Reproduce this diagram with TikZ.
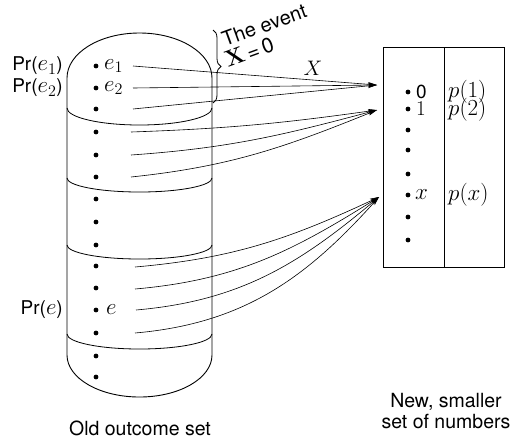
\RequirePackage{fix-cm}
\documentclass[tikz,border=0pt]{standalone}
\usepackage[no-math]{fontspec}
\setmainfont{TeX Gyre Heros}
\usetikzlibrary{arrows.meta,decorations.pathreplacing}

\begin{document}
\begin{tikzpicture}[x=1pt,y=1pt,
  pt/.style={circle,fill,inner sep=0pt,minimum size=4.8pt},
  rim/.style={line width=0.9pt},
  band/.style={line width=0.8pt},
  map/.style={line width=0.6pt,-{Stealth[length=9pt,width=4.5pt,inset=2.5pt]}},
  txt/.style={inner sep=0pt,font=\fontsize{19}{21}\selectfont},
  big/.style={inner sep=0pt,font=\fontsize{19.5}{22}\selectfont},
  mth/.style={inner sep=0pt,font=\fontsize{23}{26}\selectfont},
  num/.style={inner sep=0pt,font=\fontsize{21}{24}\selectfont},
  tilt/.style={inner sep=0pt,font=\fontsize{20}{22}\selectfont,rotate=20,anchor=base west}]
\useasboundingbox (0,0) rectangle (510,-445);

% --- the old outcome set: a capsule cut into bands ---
\draw[rim] (67,-78) arc[start angle=180,end angle=0,x radius=72.5,y radius=45]
  -- (212,-355) arc[start angle=0,end angle=-180,x radius=72.5,y radius=42] -- cycle;
\draw[band] (67,-108) arc[start angle=180,end angle=360,x radius=72.5,y radius=17];
\draw[band] (67,-178) arc[start angle=180,end angle=360,x radius=72.5,y radius=14];
\draw[band] (67,-245) arc[start angle=180,end angle=360,x radius=72.5,y radius=14];
\draw[band] (67,-334) arc[start angle=180,end angle=360,x radius=72.5,y radius=15];

% outcomes
\foreach \i/\y in {1/66,2/88,3/109,4/132,5/155,6/177,7/199,8/222,9/245,10/266,11/288,12/310,13/333,14/356,15/377}
  \node[pt] (d\i) at (96,-\y) {};

\node[mth,anchor=west] (le1) at (104,-66) {$e_1$};
\node[mth,anchor=west] (le2) at (104,-88) {$e_2$};
\node[mth,anchor=west] (le) at (106,-310) {$e$};

\newcommand\prlabel[1]{Pr({\fontsize{23}{26}\selectfont$#1$})}
\node[txt,anchor=east] (p1) at (63,-66) {\prlabel{e_1}};
\node[txt,anchor=east] (p2) at (63,-88) {\prlabel{e_2}};
\node[txt,anchor=east] (pe) at (63,-310) {\prlabel{e}};

% the brace marking the event X = 0
\draw[line width=0.8pt,decorate,decoration={brace,amplitude=8pt}] (213,-30) -- (213,-103);
\node[tilt] (ev) at (225,-47) {The event};
\node[tilt,font=\fontsize{21}{24}\selectfont] (ev0) at (228,-68)
  {{\fontsize{23}{26}\selectfont$\mathbf{X}$}\,=\,0};

% --- the new, smaller set of numbers ---
\node[draw,rim,minimum width=121,minimum height=220,anchor=north west,inner sep=0pt] (box) at (383,-47) {};
\draw[line width=0.7pt] (444,-47) -- (444,-267);
\foreach \j/\y in {1/92,2/109,3/130,4/150,5/174,6/195,7/217,8/240}
  \node[pt] (n\j) at (408,-\y) {};
\node[txt,anchor=west] (v0) at (416,-92) {0};
\node[num,anchor=west] (v1) at (416,-109) {$1$};
\node[mth,anchor=west] (vx) at (415,-195) {$x$};
\node[mth,anchor=west] (q1) at (448,-92) {$p(1)$};
\node[mth,anchor=west] (q2) at (448,-110) {$p(2)$};
\node[mth,anchor=west] (qx) at (448,-195) {$p(x)$};

% --- the mapping X ---
\coordinate (s1) at (133,-66);
\coordinate (s2) at (133,-88);
\coordinate (s3) at (133,-109);
\coordinate (s4) at (131,-132);
\coordinate (s5) at (131,-155);
\coordinate (s6) at (131,-177);
\coordinate (s7) at (135,-267);
\coordinate (s8) at (135,-289);
\coordinate (s9) at (136,-310);
\coordinate (s10) at (135,-333);
\coordinate (t0) at (377,-85);
\coordinate (t1) at (377,-110);
\coordinate (tx) at (379,-197);

\draw[map] (s1) -- (t0);
\draw[map] (s2) -- (t0);
\draw[map] (s3) -- (t0);
\draw[map] (s4) to[out=2,in=188] (t1);
\draw[map] (s5) to[out=4,in=195] (t1);
\draw[map] (s6) to[out=6,in=202] (t1);
\draw[map] (s7) to[out=5,in=205] (tx);
\draw[map] (s8) to[out=5,in=212] (tx);
\draw[map] (s9) to[out=5,in=220] (tx);
\draw[map] (s10) to[out=5,in=228] (tx);

\node[inner sep=0pt,font=\fontsize{21}{24}\selectfont] (lx) at (313,-68) {$X$};

% captions
\node[big] (cap1) at (140,-428) {Old outcome set};
\node[big,align=center] (cap2) at (446,-411) {New, smaller\\[-1pt]set of numbers};
\end{tikzpicture}
\end{document}
